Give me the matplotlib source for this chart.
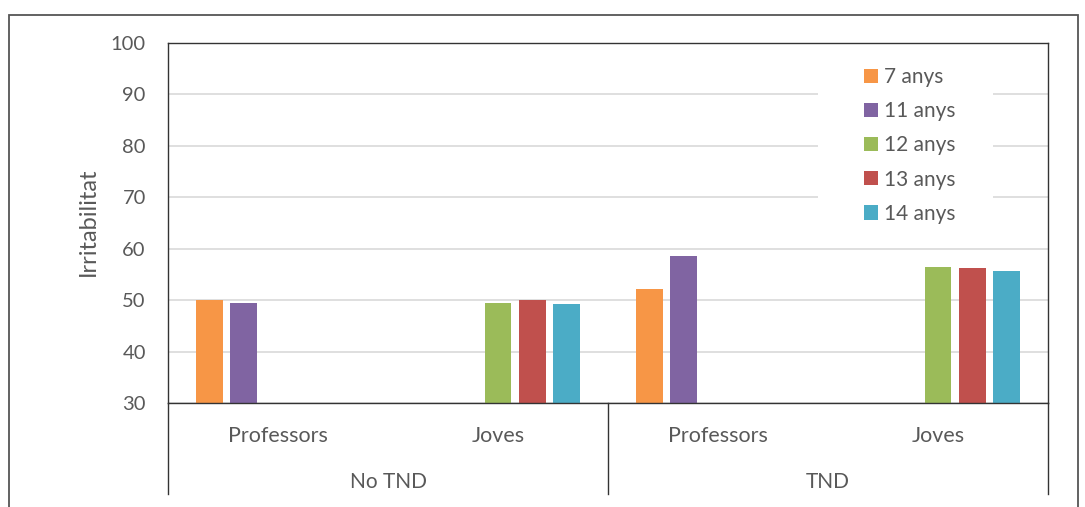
import matplotlib
matplotlib.use('Agg')

import matplotlib.pyplot as plt
import numpy as np
from matplotlib.patches import Rectangle

plt.rcParams['font.family'] = ['Lato', 'DejaVu Sans']
plt.rcParams['font.size'] = 14

# Data
categories = ['Professors', 'Joves', 'Professors', 'Joves']
groups = ['No TND', 'TND']
series = ['7 anys', '11 anys', '12 anys', '13 anys', '14 anys']
anys_7 = [50.0, np.nan, 52.1, np.nan]
anys_11 = [49.5, np.nan, 58.6, np.nan]
anys_12 = [np.nan, 49.5, np.nan, 56.5]
anys_13 = [np.nan, 50.0, np.nan, 56.2]
anys_14 = [np.nan, 49.3, np.nan, 55.7]
values = [anys_7, anys_11, anys_12, anys_13, anys_14]
colors = ['#F79646', '#8064A2', '#9BBB59', '#C0504D', '#4BACC6']

TEXT = '#595959'
W, H = 1085, 507

fig = plt.figure(figsize=(W / 100, H / 100), dpi=100)
ax = fig.add_axes([168 / W, 1 - 403 / H, 880 / W, 360 / H])

x = np.arange(len(categories))
slot = 0.156
width = 0.12
handles = []
for i, (vals, col, name) in enumerate(zip(values, colors, series)):
    b = ax.bar(x + (i - 2) * slot, vals, width, color=col, label=name, zorder=2)
    handles.append(b)

ax.set_xlim(-0.5, 3.5)
ax.set_ylim(30, 100)
ax.set_yticks(np.arange(30, 101, 10))
ax.set_xticks([])
ax.tick_params(axis='y', length=0, pad=16, labelcolor=TEXT, labelsize=14.5)
ax.set_axisbelow(True)
ax.yaxis.grid(True, color='#d9d9d9', linewidth=1.2)
for sp in ax.spines.values():
    sp.set_color('#333333')
    sp.set_linewidth(1.0)

# category labels and group separators below the axis
trans = ax.get_xaxis_transform()
for xi, lab in zip(x, categories):
    ax.text(xi, -0.092, lab, transform=trans, ha='center', va='center',
            color=TEXT, fontsize=15.5)
for gi, g in enumerate(groups):
    ax.text(gi * 2 + 0.5, -0.219, g, transform=trans, ha='center', va='center',
            color=TEXT, fontsize=15)
for xs in [-0.5, 1.5, 3.5]:
    ax.plot([xs, xs], [0, -0.253], transform=trans, color='#333333',
            linewidth=1.0, clip_on=False)

# white area behind the legend (hides gridlines)
ax.add_patch(Rectangle(((818 - 168) / 880, (403 - 228) / 360),
                       (993 - 818) / 880, (228 - 52) / 360,
                       transform=ax.transAxes, facecolor='white',
                       edgecolor='none', zorder=1))

fig.legend(handles=handles, loc='upper left',
           bbox_to_anchor=(864 / W, 1 - 67 / H), frameon=False,
           borderpad=0, borderaxespad=0, handlelength=0.68, handleheight=0.68,
           handletextpad=0.3, labelspacing=0.68, labelcolor=TEXT, fontsize=15)

fig.text(88 / W, 1 - 222 / H, 'Irritabilitat', rotation=90, ha='center',
         va='center', color=TEXT, fontsize=17)

# outer chart frame
fig.patches.append(Rectangle((9 / W, -0.1), (1078 - 9) / W, 1.1 - 15 / H,
                             transform=fig.transFigure, fill=False,
                             edgecolor='#555555', linewidth=1.3))

fig.savefig('out.png', dpi=100)
